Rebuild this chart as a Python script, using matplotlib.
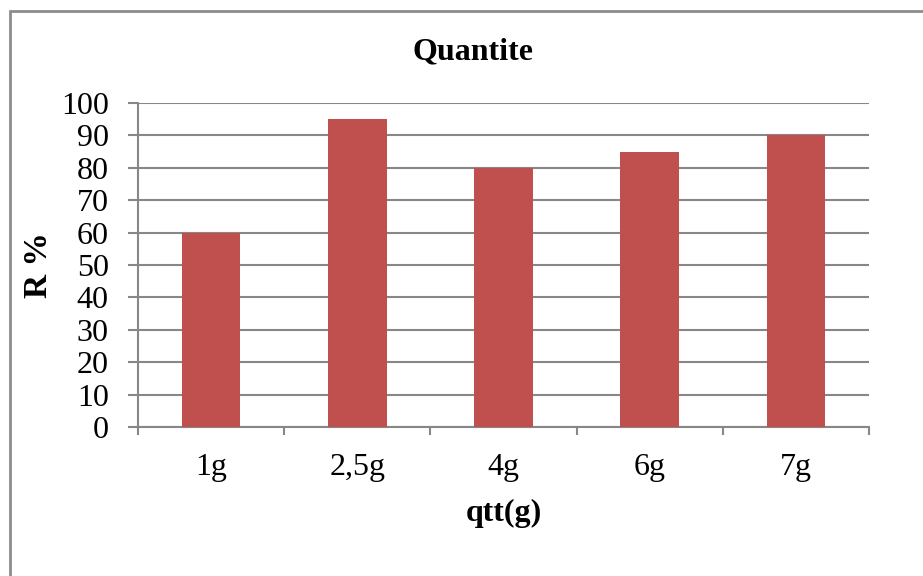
import numpy as np
import matplotlib.pyplot as plt
from matplotlib.patches import Rectangle

# Chart data
categories = ["1g", "2,5g", "4g", "6g", "7g"]
values = [60, 95, 80, 85, 90]
y_ticks = list(range(0, 101, 10))

plt.rcParams['font.family'] = ['Liberation Serif', 'DejaVu Serif']

bar_color = "#C0504D"
grid_color = "#878787"

fig = plt.figure(figsize=(9.23, 5.76), dpi=100)
ax = fig.add_axes([138 / 923, 1 - 427 / 576, (869 - 138) / 923, (427 - 103) / 576])

x = np.arange(len(categories))
ax.bar(x, values, width=0.4, color=bar_color, zorder=3)

ax.set_xlim(-0.5, len(categories) - 0.5)
ax.set_ylim(0, 100)
ax.set_yticks(y_ticks)
ax.set_xticks(x)
ax.set_xticklabels(categories)
ax.set_xticks(np.arange(-0.5, len(categories)), minor=True)

ax.grid(axis="y", color=grid_color, linewidth=1.5, zorder=0)
ax.tick_params(axis="y", direction="out", length=7, width=1.5, color=grid_color,
               labelsize=23, pad=14)
ax.tick_params(axis="x", which="major", length=0, labelsize=23, pad=19)
ax.tick_params(axis="x", which="minor", direction="out", length=6, width=1.5,
               color=grid_color)

for side in ["top", "right"]:
    ax.spines[side].set_visible(False)
for side in ["left", "bottom"]:
    ax.spines[side].set_color(grid_color)
    ax.spines[side].set_linewidth(1.5)

ax.set_xlabel("qtt(g)", fontsize=23, fontweight="bold", labelpad=12)
ax.set_ylabel("R %", fontsize=24, fontweight="bold", labelpad=5)
fig.text(473 / 923, 1 - 52 / 576, "Quantite", fontsize=23, fontweight="bold",
         ha="center", va="center")

# chart frame (right and bottom edges fall outside the picture)
fig.patches.append(Rectangle((9.5 / 923, -0.1), 1.2, 1 - 10.5 / 576 + 0.1,
                             transform=fig.transFigure, fill=False,
                             edgecolor="#8c8c8c", linewidth=2))

fig.savefig("out.png", dpi=100)
